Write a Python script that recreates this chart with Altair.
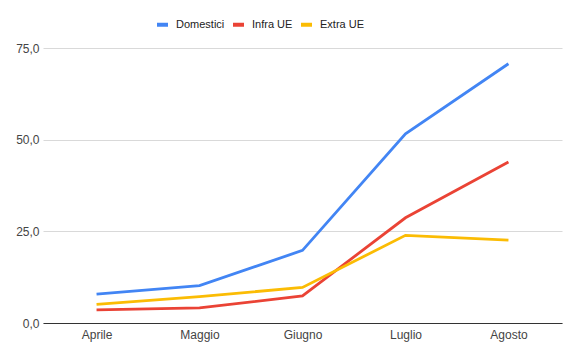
import altair as alt
import pandas as pd

months = ["Aprile", "Maggio", "Giugno", "Luglio", "Agosto"]
series = ["Domestici", "Infra UE", "Extra UE"]
domestici = [7.9, 10.2, 19.8, 51.6, 70.7]
infra_ue = [3.6, 4.1, 7.4, 28.7, 43.9]
extra_ue = [5.1, 7.2, 9.7, 23.9, 22.6]
colors = ["#4285F4", "#EA4335", "#FBBC04"]

rows = []
for name, vals in zip(series, [domestici, infra_ue, extra_ue]):
    for m, v in zip(months, vals):
        rows.append({"mese": m, "serie": name, "valore": v})
df = pd.DataFrame(rows)

chart = alt.Chart(df).mark_line(strokeWidth=2.8).encode(
    x=alt.X("mese:N", sort=months, title=None,
            scale=alt.Scale(type="point", padding=0.52),
            axis=alt.Axis(labelAngle=0, ticks=False, grid=False, domain=True,
                          domainColor="#333333", labelPadding=6)),
    y=alt.Y("valore:Q", title=None,
            scale=alt.Scale(domain=[0, 75], nice=False),
            axis=alt.Axis(values=[0, 25, 50, 75], ticks=False, domain=False,
                          gridColor="#d9d9d9", labelPadding=4,
                          labelExpr="replace(format(datum.value, '.1f'), '.', ',')")),
    color=alt.Color("serie:N", sort=series,
                    scale=alt.Scale(domain=series, range=colors),
                    legend=alt.Legend(title=None, orient="none", direction="horizontal",
                                      legendX=112, legendY=-31,
                                      symbolType="stroke", symbolSize=121,
                                      symbolStrokeWidth=4, labelFontSize=11,
                                      labelColor="#222222", columnPadding=0,
                                      labelOffset=6)),
).properties(
    width=519, height=275,
    autosize=alt.AutoSizeParams(type="none"),
    padding={"left": 35, "top": 40, "right": 10, "bottom": 30},
).configure_view(stroke=None).configure_axis(
    labelFont="Liberation Sans", labelFontSize=12, labelColor="#444444"
).configure_legend(labelFont="Liberation Sans")

chart.save("out.html", embed_options={"renderer": "svg", "actions": False})
